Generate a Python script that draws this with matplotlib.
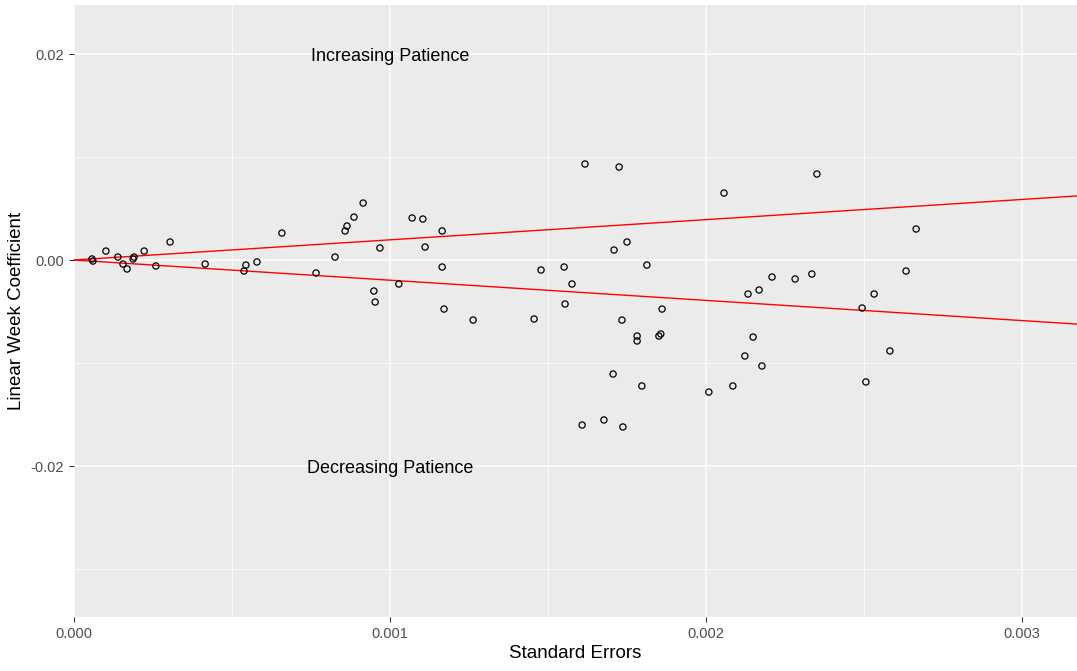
import matplotlib
matplotlib.use("Agg")
import matplotlib.pyplot as plt
from matplotlib.ticker import FixedLocator

plt.rcParams['font.family'] = ['Liberation Sans', 'DejaVu Sans']

# Standard errors (x) and linear week coefficients (y)
std_err = [0.000057, 0.000060, 0.000101, 0.000139, 0.000155, 0.000168, 0.000190, 0.000187,
           0.000222, 0.000259, 0.000304, 0.000415, 0.000538, 0.000544, 0.000579, 0.000658,
           0.000766, 0.000826, 0.000858, 0.000864, 0.000886, 0.000915, 0.000968, 0.000949,
           0.000953, 0.001028, 0.001070, 0.001104, 0.001165, 0.001111, 0.001165, 0.001171,
           0.001263, 0.001456, 0.001478, 0.001551, 0.001576, 0.001554, 0.001617, 0.001725,
           0.001709, 0.001750, 0.001813, 0.001861, 0.001734, 0.001782, 0.001782, 0.001851,
           0.001857, 0.001706, 0.001797, 0.001608, 0.001677, 0.001737, 0.002009, 0.002085,
           0.002123, 0.002149, 0.002177, 0.002057, 0.002351, 0.002133, 0.002168, 0.002209,
           0.002282, 0.002335, 0.002494, 0.002532, 0.002506, 0.002582, 0.002633, 0.002665]
coef = [0.00010, -0.00010, 0.00087, 0.00029, -0.00039, -0.00087, 0.00029, 0.00010,
        0.00087, -0.00058, 0.00175, -0.00039, -0.00107, -0.00049, -0.00019, 0.00262,
        -0.00126, 0.00029, 0.00282, 0.00330, 0.00417, 0.00553, 0.00117, -0.00301,
        -0.00408, -0.00233, 0.00408, 0.00398, 0.00282, 0.00126, -0.00068, -0.00476,
        -0.00583, -0.00573, -0.00097, -0.00068, -0.00233, -0.00427, 0.00932, 0.00903,
        0.00097, 0.00175, -0.00049, -0.00476, -0.00583, -0.00738, -0.00786, -0.00738,
        -0.00718, -0.01107, -0.01223, -0.01602, -0.01553, -0.01621, -0.01282, -0.01223,
        -0.00932, -0.00748, -0.01029, 0.00650, 0.00835, -0.00330, -0.00291, -0.00165,
        -0.00184, -0.00136, -0.00466, -0.00330, -0.01184, -0.00883, -0.00107, 0.00301]

x_ticks = [0.000, 0.001, 0.002, 0.003]
x_tick_labels = ["0.000", "0.001", "0.002", "0.003"]
y_ticks = [-0.02, 0.00, 0.02]
y_tick_labels = ["-0.02", "0.00", "0.02"]
z_crit = 1.96

W, H = 1077, 671
fig = plt.figure(figsize=(W / 100, H / 100), dpi=100)
fig.patch.set_facecolor("white")
ax = fig.add_axes([74 / W, 1 - 617 / H, (1077 - 74) / W, (617 - 5) / H])
ax.set_facecolor("#EBEBEB")

xmax = (1077 - 74) / 316000
ax.set_xlim(0, xmax)
ax.set_ylim(-0.03466, 0.02476)

ax.xaxis.set_major_locator(FixedLocator(x_ticks))
ax.yaxis.set_major_locator(FixedLocator(y_ticks))
ax.set_xticklabels(x_tick_labels)
ax.set_yticklabels(y_tick_labels)
ax.xaxis.set_minor_locator(FixedLocator([0.0005, 0.0015, 0.0025]))
ax.yaxis.set_minor_locator(FixedLocator([-0.03, -0.01, 0.01]))

ax.grid(which="major", color="white", linewidth=1.1)
ax.grid(which="minor", color="white", linewidth=0.55)
ax.set_axisbelow(True)
for s in ax.spines.values():
    s.set_visible(False)
ax.tick_params(which="major", length=3.5, color="#333333", labelcolor="#4D4D4D",
               labelsize=10.5, width=0.8)
ax.tick_params(which="minor", length=0)

ax.axline((0, 0), slope=z_crit, color="red", linewidth=1.0, zorder=2)
ax.axline((0, 0), slope=-z_crit, color="red", linewidth=1.0, zorder=2)

ax.scatter(std_err, coef, s=20, facecolors="none", edgecolors="black",
           linewidths=0.9, zorder=3)

ax.text(0.001, 0.02, "Increasing Patience", ha="center", va="center_baseline",
        fontsize=13, color="black")
ax.text(0.001, -0.02, "Decreasing Patience", ha="center", va="center_baseline",
        fontsize=13, color="black")

ax.set_xlabel("Standard Errors", fontsize=13.5, labelpad=3)
ax.set_ylabel("Linear Week Coefficient", fontsize=13.5, labelpad=4)

fig.savefig("out.png", dpi=100)
